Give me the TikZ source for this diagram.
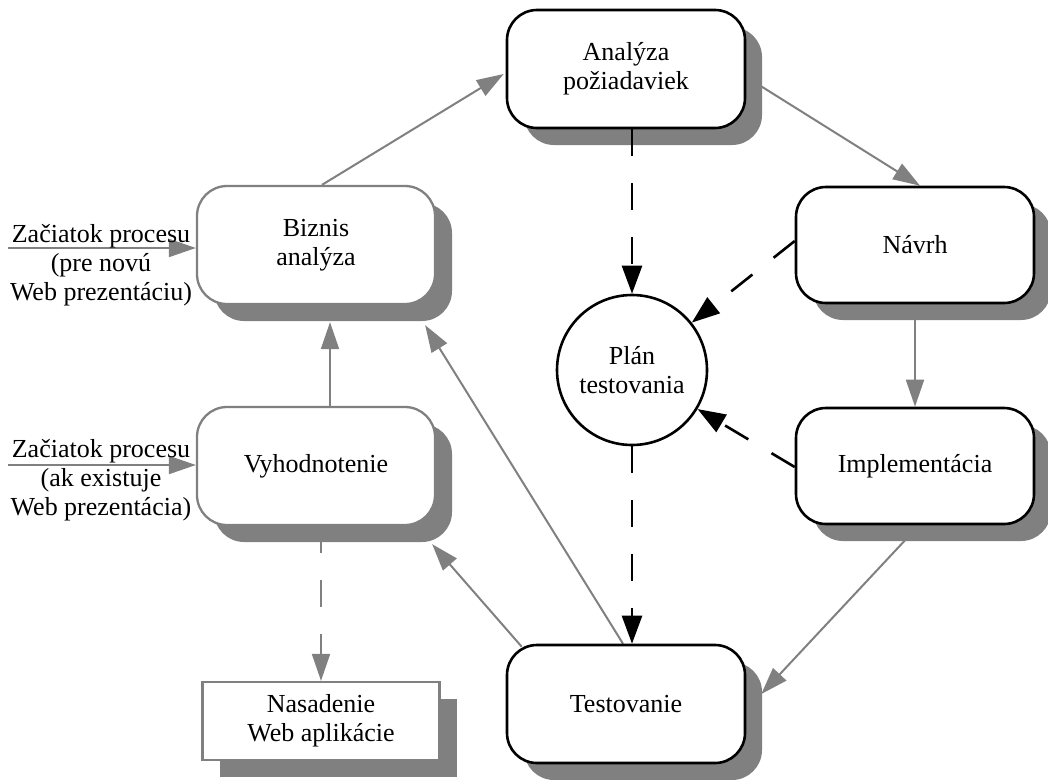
\documentclass[tikz,border=0pt]{standalone}
\usepackage{fontspec}
\setmainfont{Liberation Serif}
\usetikzlibrary{arrows.meta,calc,shadows}
\pgfdeclarelayer{background}
\pgfsetlayers{background,main}
\definecolor{linegray}{HTML}{808080}
\begin{document}
\begin{tikzpicture}[x=1pt,y=-1pt,
  font=\fontsize{26}{29}\selectfont,
  shade box/.style={drop shadow={shadow xshift=17pt,shadow yshift=-17pt,fill=linegray,opacity=1}},
  procbox/.style={shade box,draw=black,line width=2.6pt,fill=white,rounded corners=30pt,
    minimum width=238pt,minimum height=118pt,inner sep=0pt,align=center},
  greybox/.style={procbox,draw=linegray,line width=2.3pt},
  plainbox/.style={shade box,draw=linegray,line width=2.3pt,fill=white,
    minimum width=237pt,minimum height=78pt,inner sep=0pt,align=center},
  planc/.style={circle,draw=black,line width=2.6pt,fill=white,minimum size=150pt,
    inner sep=0pt,align=center},
  startlbl/.style={align=center,inner sep=0pt},
  garr/.style={draw=linegray,line width=2pt,-{Triangle[length=27pt,width=18pt]}},
  gdash/.style={garr,dash pattern=on 27pt off 27pt},
  bdash/.style={draw=black,line width=2.6pt,dash pattern=on 27pt off 27pt,
    -{Triangle[length=28pt,width=20pt]}}
]
\useasboundingbox (0,0) rectangle (1048,779);

% process steps
\node[procbox] (A) at (626,69)  {Analýza\\požiadaviek};
\node[greybox] (B) at (316,245) {Biznis\\analýza};
\node[greybox] (V) at (316,466) {Vyhodnotenie};
\node[procbox,minimum height=116pt] (N) at (915,245) {Návrh};
\node[procbox,minimum height=116pt] (I) at (915,466) {Implementácia};
\node[procbox] (T) at (626,704) {Testovanie};
\node[plainbox] (D) at (321,721) {Nasadenie\\Web aplikácie};
\node[planc] (P) at (632,370) {Plán\\testovania};

% entry points
\node[startlbl] (L1) at (101,265) {Začiatok procesu\\(pre novú\\Web prezentáciu)};
\node[startlbl] (L2) at (101,480) {Začiatok procesu\\(ak existuje\\Web prezentácia)};
\coordinate (s1) at (8,248);
\coordinate (s2) at (8,465);

% grey flow, kept beneath the boxes and their shadows
\begin{pgfonlayer}{background}
\draw[garr] (s1) -- ($(B.west)+(0,3)$);
\draw[garr] (s2) -- ($(V.west)+(0,-1)$);
\draw[garr] ($(B.north)+(6,0)$) -- ($(A.west)+(-2,5)$);
\draw[garr] ($(A.east)+(0,8)$) -- ($(N.north)+(5,0)$);
\draw[garr] (N.south) -- (I.north);
\draw[garr] ($(I.south)+(4,0)$) -- ($(T.east)+(15,-10)$);
\draw[garr] ($(T.north west)+(16,3)$) -- ($(V.south east)+(-4,18)$);
\draw[garr] ($(T.north)+(-3,0)$) -- ($(B.south east)+(-11,20)$);
\draw[garr] ($(V.north)+(14,0)$) -- ($(B.south)+(14,17)$);
\draw[gdash] ($(V.south)+(5,0)$) -- (D.north);
\end{pgfonlayer}

% test plan links
\draw[bdash] (A.south -| P.north) -- (P.north);
\draw[bdash] ($(N.west)+(0,-4)$) -- (P);
\draw[bdash] ($(I.west)+(0,1)$) -- (P);
\draw[bdash] (P.south) -- (P.south |- T.north);
\end{tikzpicture}
\end{document}
